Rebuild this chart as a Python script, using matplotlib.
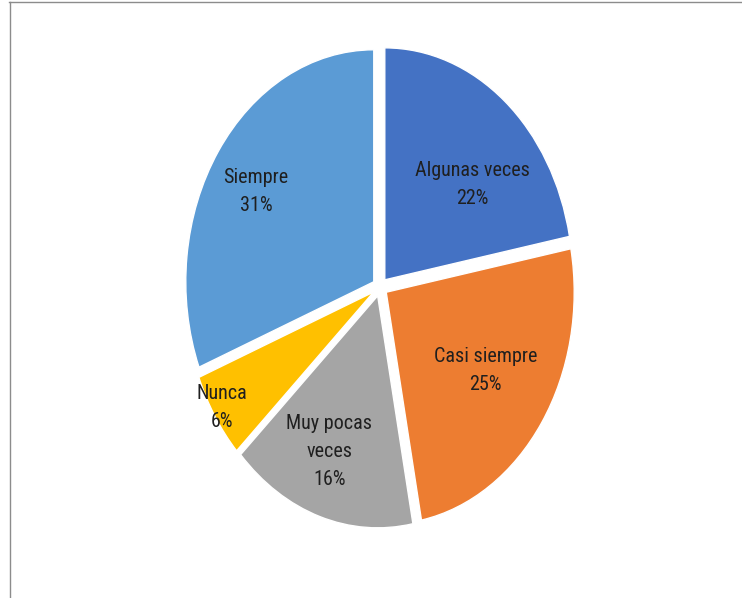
import matplotlib

matplotlib.use("Agg")
import matplotlib.pyplot as plt
from matplotlib import font_manager
from matplotlib.lines import Line2D

categorias = ["Algunas veces", "Casi siempre", "Muy pocas\nveces", "Nunca", "Siempre"]
porcentajes = [22, 25, 16, 6, 31]
colores = ["#4472C4", "#ED7D31", "#A5A5A5", "#FFC000", "#5B9BD5"]

# posiciones de las etiquetas (coordenadas de datos, centro del pastel en 0,0)
pos_etiquetas = [(0.49, 0.44), (0.56, -0.36), (-0.27, -0.71), (-0.84, -0.52), (-0.66, 0.41)]

W, H = 742, 598
fig = plt.figure(figsize=(W / 100, H / 100), dpi=100)

# pastel ligeramente ovalado: 1 unidad = 188 px en x, 232 px en y
cx, cy = 380, H - 287
rx, ry = 188, 232
lim = 1.2
ax = fig.add_axes([(cx - lim * rx) / W, (cy - lim * ry) / H, 2 * lim * rx / W, 2 * lim * ry / H])

ax.pie(
    porcentajes,
    colors=colores,
    startangle=90,
    counterclock=False,
    explode=[0.04] * len(porcentajes),
    wedgeprops=dict(edgecolor="white", linewidth=1),
)
ax.set_aspect("auto")
ax.set_xlim(-lim, lim)
ax.set_ylim(-lim, lim)
ax.axis("off")

# fuente estrecha si hay alguna instalada
nombres = {f.name for f in font_manager.fontManager.ttflist}
fuente = "DejaVu Sans"
for cand in ["Liberation Sans Narrow", "DejaVu Sans Condensed", "Roboto Condensed", "Open Sans Condensed"]:
    if cand in nombres:
        fuente = cand
        break

for nombre, pct, (x, y) in zip(categorias, porcentajes, pos_etiquetas):
    ax.text(x, y, f"{nombre}\n{pct}%", ha="center", va="center", fontsize=14.5,
            family=fuente, stretch="condensed", color="#1f1f1f", linespacing=1.6)

# marco del área del gráfico (solo borde superior e izquierdo visibles)
fig.add_artist(Line2D([9 / W, 1], [1 - 1.5 / H, 1 - 1.5 / H], transform=fig.transFigure,
                      color="#8c8c8c", linewidth=1))
fig.add_artist(Line2D([9.5 / W, 9.5 / W], [0, 1 - 1.5 / H], transform=fig.transFigure,
                      color="#8c8c8c", linewidth=1))

fig.savefig("out.png", dpi=100)
